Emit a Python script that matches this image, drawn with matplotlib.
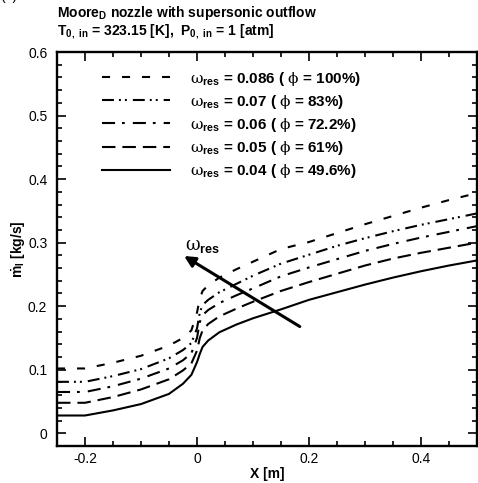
import matplotlib
matplotlib.use("Agg")
import matplotlib.pyplot as plt
from matplotlib.ticker import MultipleLocator
from matplotlib.lines import Line2D

plt.rcParams["font.family"] = ["Liberation Sans", "DejaVu Sans"]
plt.rcParams["mathtext.fontset"] = "custom"
plt.rcParams["mathtext.rm"] = "Liberation Sans:bold"
plt.rcParams["mathtext.bf"] = "Liberation Sans:bold"
plt.rcParams["mathtext.it"] = "DejaVu Serif"
plt.rcParams["lines.scale_dashes"] = False

# mass flow along the nozzle, one series per reservoir humidity
x = [-0.25, -0.2, -0.15, -0.1, -0.05, -0.025, -0.01, 0.0, 0.005, 0.01, 0.02,
     0.04, 0.07, 0.1, 0.15, 0.2, 0.25, 0.3, 0.35, 0.4, 0.45, 0.5]
m_086 = [0.102, 0.102, 0.111, 0.122, 0.138, 0.150, 0.162, 0.190, 0.212, 0.224, 0.233,
         0.245, 0.258, 0.270, 0.290, 0.301, 0.315, 0.329, 0.342, 0.355, 0.367, 0.378]
m_07 = [0.081, 0.081, 0.090, 0.101, 0.118, 0.131, 0.142, 0.165, 0.190, 0.202, 0.210,
        0.222, 0.235, 0.248, 0.267, 0.281, 0.295, 0.307, 0.318, 0.328, 0.337, 0.346]
m_06 = [0.065, 0.065, 0.074, 0.086, 0.102, 0.115, 0.126, 0.150, 0.175, 0.186, 0.194,
        0.205, 0.217, 0.228, 0.247, 0.261, 0.274, 0.287, 0.298, 0.308, 0.317, 0.326]
m_05 = [0.048, 0.048, 0.057, 0.069, 0.085, 0.099, 0.110, 0.130, 0.150, 0.162, 0.172,
        0.184, 0.196, 0.207, 0.224, 0.238, 0.251, 0.264, 0.275, 0.284, 0.292, 0.300]
m_04 = [0.028, 0.028, 0.036, 0.046, 0.062, 0.078, 0.092, 0.112, 0.125, 0.136, 0.146,
        0.159, 0.171, 0.181, 0.195, 0.210, 0.222, 0.234, 0.245, 0.255, 0.264, 0.272]

omega = ["0.086", "0.07", "0.06", "0.05", "0.04"]
phi = ["100%", "83%", "72.2%", "61%", "49.6%"]
series = [m_086, m_07, m_06, m_05, m_04]

# dash patterns in points (tecplot-like)
styles = [
    (0, (5.8, 8.6)),
    (0, (8.6, 3.6, 1.4, 2.9, 1.4, 4.3)),
    (0, (9.4, 5.0, 2.0, 5.8)),
    (0, (9.7, 5.0)),
    "-",
]

arrow_tail = (0.1835, 0.168)
arrow_head = (-0.023, 0.279)

fig = plt.figure(figsize=(4.78, 4.83), dpi=100)
ax = fig.add_axes([57 / 478, 37 / 483, 420 / 478, 394 / 483])

handles = []
for ys, ls, w, p in zip(series, styles, omega, phi):
    ax.plot(x, ys, color="black", lw=1.5, linestyle=ls)
    handles.append(Line2D([], [], color="black", lw=1.5, linestyle=ls,
                          label=rf"$\omega_{{\mathbf{{res}}}}$ = {w} ( $\phi$ = {p})"))

leg = ax.legend(handles=handles, loc="upper left", bbox_to_anchor=(0.108, 0.955),
                frameon=False, handlelength=4.4, handletextpad=1.35,
                labelspacing=0.33, borderaxespad=0, borderpad=0,
                prop={"weight": "bold", "size": 11})

ax.annotate("", xy=arrow_head, xytext=arrow_tail,
            arrowprops=dict(arrowstyle="-|>", color="black", lw=2.2,
                            mutation_scale=16, shrinkA=0, shrinkB=0))
ax.text(-0.021, 0.289, r"$\omega_{\mathbf{res}}$", fontsize=13, ha="left", va="baseline")

ax.set_xlim(-0.25, 0.5)
ax.set_ylim(-0.02, 0.6)
ax.xaxis.set_minor_locator(MultipleLocator(0.05))
ax.yaxis.set_minor_locator(MultipleLocator(0.02))
ax.set_xticks([-0.2, 0, 0.2, 0.4])
ax.set_xticklabels(["-0.2", "0", "0.2", "0.4"])
ax.set_yticks([0, 0.1, 0.2, 0.3, 0.4, 0.5, 0.6])
ax.set_yticklabels(["0", "0.1", "0.2", "0.3", "0.4", "0.5", "0.6"])
ax.tick_params(which="both", direction="in", top=True, right=True,
               labelsize=10, width=1.2)
ax.tick_params(which="major", length=6.5)
ax.tick_params(which="minor", length=3.6)
ax.tick_params(axis="x", which="major", pad=4)
ax.tick_params(axis="y", which="major", pad=7)
for s in ax.spines.values():
    s.set_linewidth(1.7)

ax.set_xlabel("X [m]", fontsize=10, fontweight="bold", labelpad=1)
ax.set_ylabel(r"$\dot{\mathbf{m}}_{\mathbf{I}}$ [kg/s]", fontsize=10,
              fontweight="bold", labelpad=0)

fig.text(57 / 478, 1 - 13 / 483, r"Moore$_{\mathbf{D}}$ nozzle with supersonic outflow",
         fontsize=10, fontweight="bold", ha="left", va="center")
fig.text(57 / 478, 1 - 32 / 483,
         r"T$_{\mathbf{0,\ in}}$ = 323.15 [K],  P$_{\mathbf{0,\ in}}$ = 1 [atm]",
         fontsize=10, fontweight="bold", ha="left", va="center")
fig.text(0.0, 1.0, "(a)", fontsize=10, ha="left", va="baseline")

fig.savefig("out.png", dpi=100)
